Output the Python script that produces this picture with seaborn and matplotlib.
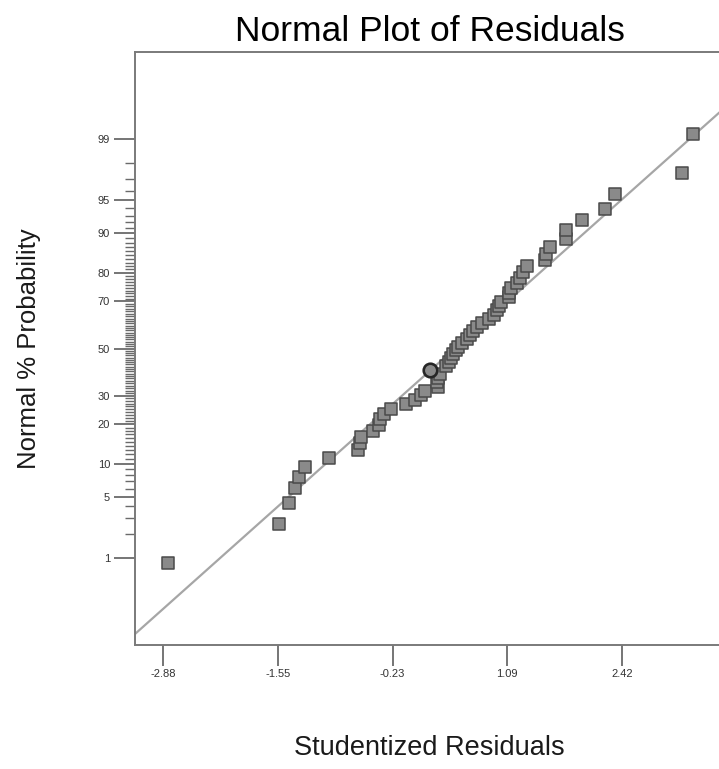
from statistics import NormalDist
import numpy as np
import pandas as pd
import matplotlib
matplotlib.use("Agg")
import matplotlib.pyplot as plt
import seaborn as sns
from matplotlib.ticker import FixedLocator, FixedFormatter, NullFormatter

# studentized residuals (rank order) and their normal % probability
resid = [-2.83, -1.54, -1.43, -1.36, -1.31, -1.24, -0.97, -0.63, -0.61, -0.59,
         -0.46, -0.39, -0.37, -0.33, -0.25, -0.08, 0.03, 0.10, 0.15, 0.29,
         0.28, 0.30, 0.32, 0.39, 0.42, 0.45, 0.47, 0.50, 0.53,
         0.57, 0.63, 0.67, 0.70, 0.74, 0.80, 0.88, 0.94, 0.98, 1.00,
         1.02, 1.11, 1.12, 1.14, 1.21, 1.24, 1.28, 1.32, 1.53, 1.54,
         1.59, 1.77, 1.77, 1.96, 2.22, 2.34, 3.11, 3.24]
pct = [0.86, 2.59, 4.31, 6.03, 7.76, 9.48, 11.21, 12.93, 14.66, 16.38,
       18.10, 19.83, 21.55, 23.28, 25.00, 26.72, 28.45, 30.17, 31.90, 33.62,
       35.34, 37.07, 38.79, 42.24, 43.97, 45.69, 47.41, 49.14, 50.86,
       52.59, 54.31, 56.03, 57.76, 59.48, 61.21, 62.93, 64.66, 66.38, 68.10,
       69.83, 71.55, 73.28, 75.00, 76.72, 78.45, 80.17, 81.90, 83.62, 85.34,
       87.07, 88.79, 90.52, 92.24, 93.97, 95.69, 97.41, 99.14]
circle_resid = [0.20]
circle_pct = [40.52]

# reference line as drawn: z = a + b * residual
line_a, line_b = -0.42, 0.857
line_x = [-3.4, 3.8]

x_ticks = [-2.88, -1.55, -0.23, 1.09, 2.42]
x_tick_labels = ["-2.88", "-1.55", "-0.23", "1.09", "2.42"]
y_ticks = [1, 5, 10, 20, 30, 50, 70, 80, 90, 95, 99]
y_minor = [p for p in range(1, 100) if p not in y_ticks]

nd = NormalDist()


def _ppf1(p):
    if not np.isfinite(p):
        return np.nan
    return nd.inv_cdf(min(max(p / 100.0, 1e-9), 1 - 1e-9))


def _cdf1(z):
    if not np.isfinite(z):
        return np.nan
    return nd.cdf(z) * 100.0


_ppf = np.vectorize(_ppf1, otypes=[float])
_cdf = np.vectorize(_cdf1, otypes=[float])


def fwd(p):
    return _ppf(np.asarray(p, dtype=float))


def inv(z):
    return _cdf(np.asarray(z, dtype=float))


sq = pd.DataFrame({"resid": resid, "pct": pct})
ci = pd.DataFrame({"resid": circle_resid, "pct": circle_pct})

sns.set_style("white")
plt.rcParams["font.family"] = ["Liberation Sans", "DejaVu Sans"]

fig = plt.figure(figsize=(7.19, 7.69), dpi=100)
ax = fig.add_axes([135 / 719, 1 - 645 / 769, 589 / 719, 593 / 769])
ax.set_yscale("function", functions=(fwd, inv))

lx = np.array(line_x)
ax.plot(lx, inv(line_a + line_b * lx), color="#a6a6a6", lw=1.6, zorder=1)

sns.scatterplot(data=sq, x="resid", y="pct", marker="s", s=78,
                color="#8a8a8a", edgecolor="#4a4a4a", linewidth=1.1,
                ax=ax, zorder=3, legend=False)
sns.scatterplot(data=ci, x="resid", y="pct", marker="o", s=95,
                color="#8a8a8a", edgecolor="#262626", linewidth=1.9,
                ax=ax, zorder=4, legend=False)

ax.set_xlim(-3.207, 3.6)
ax.set_ylim(0.05, 99.95)

ax.xaxis.set_major_locator(FixedLocator(x_ticks))
ax.xaxis.set_major_formatter(FixedFormatter(x_tick_labels))
ax.yaxis.set_major_locator(FixedLocator(y_ticks))
ax.yaxis.set_major_formatter(FixedFormatter([str(v) for v in y_ticks]))
ax.yaxis.set_minor_locator(FixedLocator(y_minor))
ax.yaxis.set_minor_formatter(NullFormatter())
ax.xaxis.set_minor_locator(FixedLocator([]))

ax.tick_params(axis="both", which="major", direction="out", length=15,
               width=1.3, color="#6a6a6a", labelsize=8, labelcolor="#333333",
               pad=3, left=True, bottom=True)
ax.tick_params(axis="y", which="minor", direction="out", length=7,
               width=1.0, color="#6a6a6a", left=True)
ax.tick_params(axis="x", which="major", pad=2)

for side in ["left", "bottom", "top"]:
    ax.spines[side].set_visible(True)
    ax.spines[side].set_color("#7a7a7a")
    ax.spines[side].set_linewidth(1.4)
ax.spines["right"].set_visible(False)

ax.set_title("Normal Plot of Residuals", fontsize=25.5, color="black", pad=8)
ax.set_xlabel("Studentized Residuals", fontsize=19.5, color="#1a1a1a")
ax.set_ylabel("Normal % Probability", fontsize=18.5, color="#1a1a1a")
ax.xaxis.set_label_coords(0.5, -0.152)
ax.yaxis.set_label_coords(-0.160, 0.5)

fig.savefig("out.png", dpi=100)
